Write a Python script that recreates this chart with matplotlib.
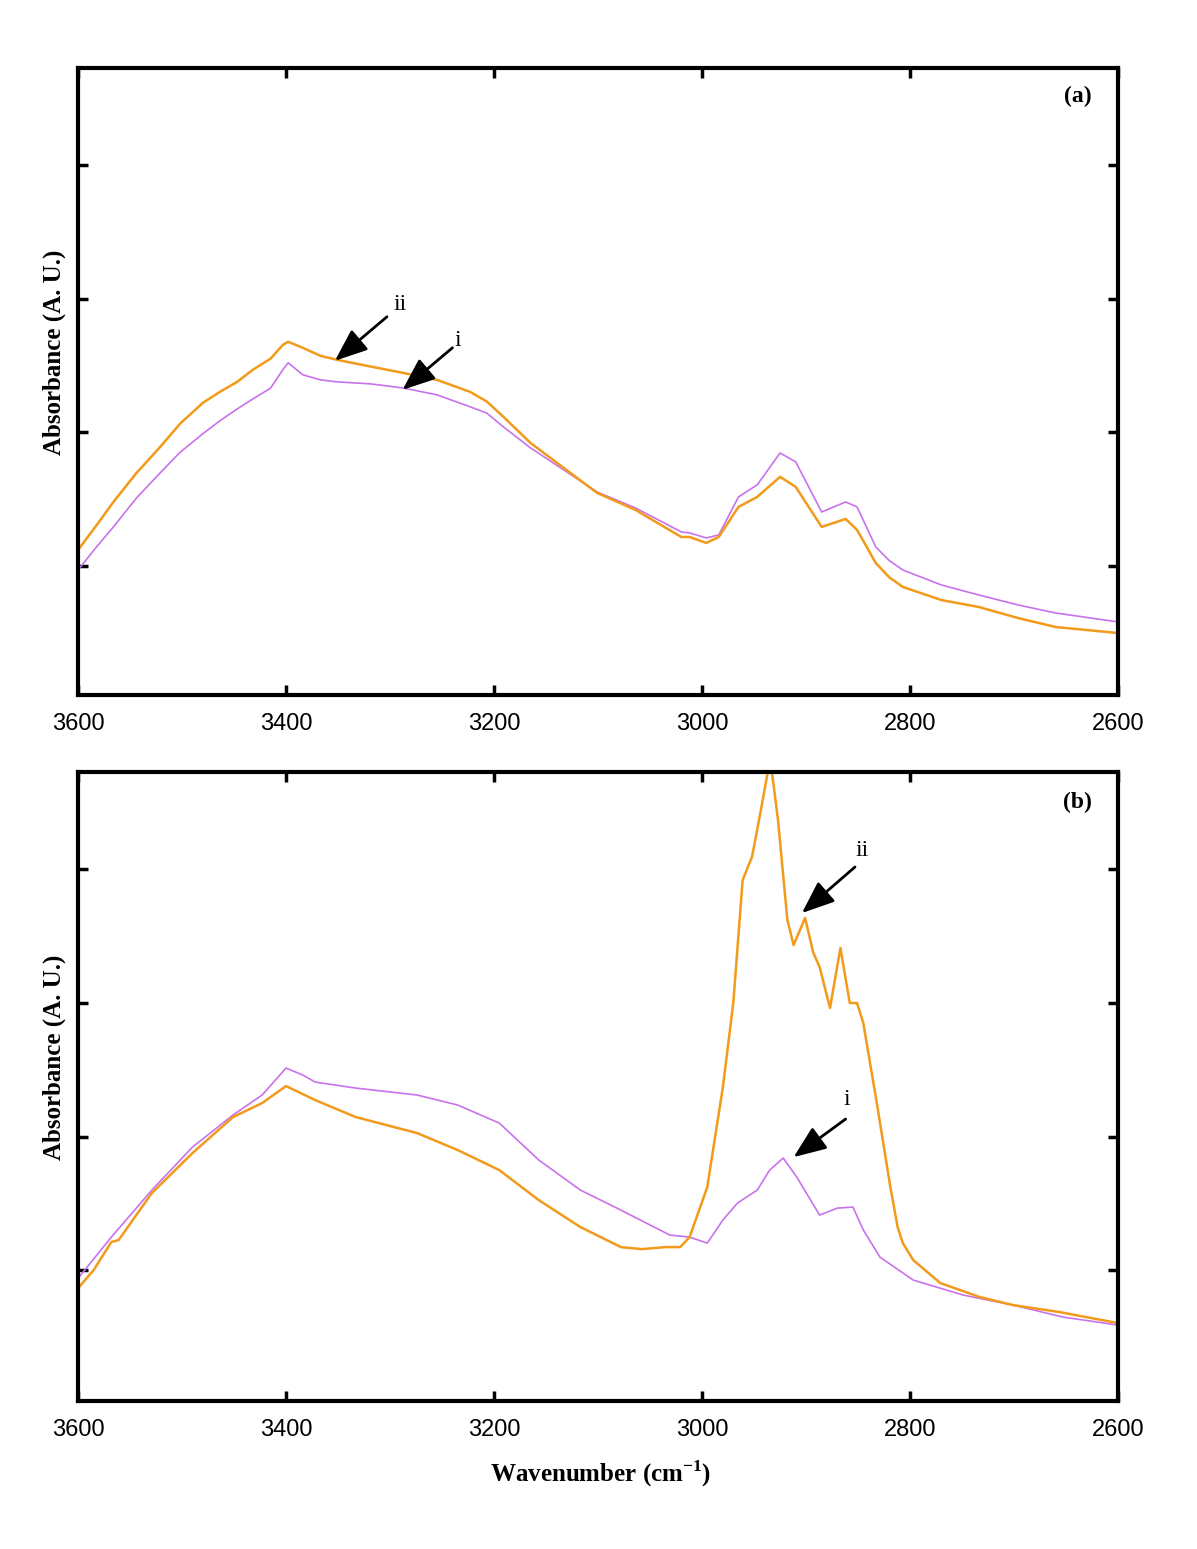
import numpy as np
import matplotlib
matplotlib.use("Agg")
import matplotlib.pyplot as plt

plt.rcParams['mathtext.fontset'] = 'custom'
plt.rcParams['mathtext.rm'] = 'Liberation Serif'
plt.rcParams['mathtext.bf'] = 'Liberation Serif:bold'

# panel (a) - wavenumber (cm-1) and absorbance (A.U.)
wn_a = [3600, 3582, 3566, 3544, 3521, 3502, 3480, 3463, 3447, 3432, 3415, 3403,
        3398, 3384, 3367, 3351, 3319, 3288, 3255, 3223, 3207, 3191, 3165, 3101,
        3064, 3020, 3012, 2996, 2984, 2965, 2947, 2925, 2910, 2885, 2862, 2851,
        2833, 2820, 2807, 2770, 2734, 2696, 2660, 2600]
a_ii = [1.120, 1.307, 1.479, 1.694, 1.891, 2.064, 2.221, 2.306, 2.378, 2.468, 2.551, 2.655,
        2.678, 2.633, 2.573, 2.543, 2.493, 2.446, 2.393, 2.303, 2.231, 2.116, 1.921, 1.547,
        1.419, 1.217, 1.217, 1.172, 1.217, 1.442, 1.517, 1.667, 1.592, 1.292, 1.352, 1.270,
        1.022, 0.915, 0.843, 0.745, 0.693, 0.610, 0.543, 0.498]
a_i = [0.970, 1.145, 1.292, 1.507, 1.697, 1.850, 1.990, 2.090, 2.175, 2.250, 2.330, 2.470,
       2.521, 2.431, 2.393, 2.378, 2.363, 2.333, 2.281, 2.191, 2.144, 2.041, 1.884, 1.554,
       1.434, 1.255, 1.247, 1.210, 1.232, 1.517, 1.607, 1.846, 1.779, 1.404, 1.479, 1.442,
       1.142, 1.040, 0.970, 0.858, 0.783, 0.708, 0.648, 0.581]

# panel (b)
wn_b_ii = [3599, 3585, 3568, 3561, 3529, 3490, 3451, 3423, 3400, 3372, 3333, 3274,
           3235, 3195, 3157, 3117, 3078, 3058, 3035, 3021, 3012, 2995, 2980, 2970,
           2961, 2952, 2944, 2937, 2934, 2927, 2918, 2912, 2901, 2893, 2887, 2877,
           2867, 2858, 2851, 2845, 2832, 2819, 2812, 2807, 2797, 2771, 2733, 2701,
           2656, 2600]
b_ii = [0.873, 1.000, 1.210, 1.225, 1.577, 1.876, 2.146, 2.251, 2.378, 2.273, 2.146, 2.026,
        1.899, 1.749, 1.524, 1.322, 1.172, 1.157, 1.172, 1.172, 1.247, 1.622, 2.371, 3.000,
        3.921, 4.094, 4.423, 4.723, 4.800, 4.371, 3.622, 3.434, 3.637, 3.375, 3.270, 2.963,
        3.412, 3.000, 3.000, 2.850, 2.251, 1.622, 1.322, 1.202, 1.075, 0.903, 0.798, 0.738,
        0.685, 0.603]
wn_b_i = [3599, 3568, 3529, 3490, 3451, 3423, 3400, 3384, 3372, 3333, 3274, 3235,
          3195, 3157, 3117, 3078, 3031, 3012, 2995, 2980, 2966, 2947, 2935, 2922,
          2909, 2887, 2870, 2855, 2845, 2829, 2797, 2749, 2701, 2653, 2600]
b_i = [0.948, 1.247, 1.599, 1.921, 2.161, 2.311, 2.513, 2.461, 2.408, 2.363, 2.311, 2.236,
       2.101, 1.824, 1.599, 1.449, 1.262, 1.247, 1.202, 1.375, 1.502, 1.599, 1.749, 1.839,
       1.697, 1.412, 1.464, 1.472, 1.300, 1.097, 0.925, 0.813, 0.738, 0.648, 0.588]

x_ticks = [3600, 3400, 3200, 3000, 2800, 2600]
y_ticks = [1, 2, 3, 4]

c_i = '#C872EC'
c_ii = '#F29A1A'
serif = ['Liberation Serif', 'DejaVu Serif']
sans = ['Liberation Sans', 'DejaVu Sans']

fig = plt.figure(figsize=(11.97, 15.49), dpi=100)
ax1 = fig.add_axes([0.0652, 0.5513, 0.8689, 0.4048])
ax2 = fig.add_axes([0.0652, 0.0955, 0.8689, 0.4061])


def style_axes(ax):
    ax.set_xlim(3600, 2600)
    ax.set_ylim(0.034, 4.727)
    ax.set_xticks(x_ticks)
    ax.set_yticks(y_ticks)
    ax.set_yticklabels([])
    for s in ax.spines.values():
        s.set_linewidth(3)
    ax.tick_params(axis='both', direction='in', length=7, width=2.5,
                   top=True, right=True, pad=13)
    for lab in ax.get_xticklabels():
        lab.set_family(sans)
        lab.set_fontsize(17)
    ax.set_ylabel('Absorbance (A. U.)', family=serif, fontweight='bold', fontsize=18)
    ax.yaxis.set_label_coords(-0.012, 0.547)


ax1.plot(wn_a, a_i, color=c_i, lw=1.2)
ax1.plot(wn_a, a_ii, color=c_ii, lw=1.8)
style_axes(ax1)
ax1.text(0.961, 0.954, '(a)', transform=ax1.transAxes, ha='center', va='center',
         family=serif, fontweight='bold', fontsize=17)

ax2.plot(wn_b_i, b_i, color=c_i, lw=1.2)
ax2.plot(wn_b_ii, b_ii, color=c_ii, lw=1.8)
style_axes(ax2)
ax2.set_ylim(0.019, 4.730)
ax2.text(0.961, 0.952, '(b)', transform=ax2.transAxes, ha='center', va='center',
         family=serif, fontweight='bold', fontsize=17)
ax2.set_xlabel(r'Wavenumber (cm$^{\mathbf{-1}}$)', family=serif, fontweight='bold', fontsize=18)
ax2.xaxis.set_label_coords(0.502, -0.092)

arrow = dict(arrowstyle='-|>,head_length=1.0,head_width=0.4', color='black',
             lw=2, mutation_scale=20, shrinkA=0, shrinkB=0)

# (tip, tail, text) in data coordinates
notes = [
    (ax1, 'ii', (3353, 2.536), (3303, 2.865), (3290, 2.955)),
    (ax1, 'i', (3288, 2.318), (3240, 2.633), (3235, 2.690)),
    (ax2, 'ii', (2904, 3.674), (2853, 4.019), (2846, 4.140)),
    (ax2, 'i', (2912, 1.846), (2862, 2.131), (2861, 2.280)),
]
for ax, lab, tip, tail, pos in notes:
    ax.annotate('', xy=tip, xytext=tail, arrowprops=arrow)
    ax.text(pos[0], pos[1], lab, ha='center', va='center', family=serif, fontsize=17)

fig.savefig('out.png', dpi=100)
